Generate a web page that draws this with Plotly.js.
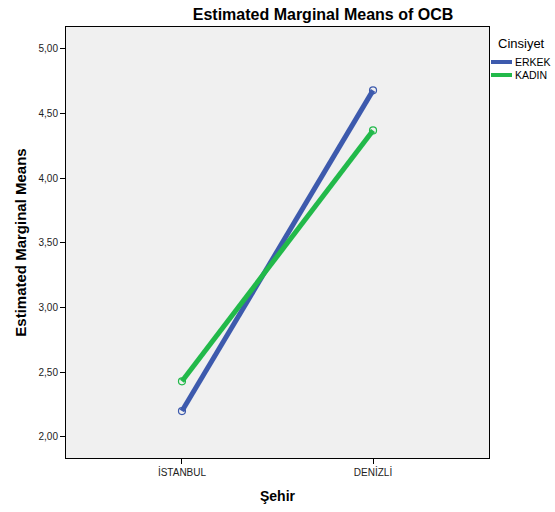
<!DOCTYPE html>
<html>
<head>
<meta charset="utf-8">
<script src="https://cdn.plot.ly/plotly-3.0.1.min.js"></script>
<style>html,body{margin:0;padding:0;background:#fff;}#chart{width:555px;height:512px;}</style>
</head>
<body>
<div id="chart"></div>
<script>
const categories = ["İSTANBUL", "DENİZLİ"];
const seriesNames = ["ERKEK", "KADIN"];
const erkekValues = [2.20, 4.68];
const kadinValues = [2.43, 4.37];
const yTickValues = [2.0, 2.5, 3.0, 3.5, 4.0, 4.5, 5.0];
const legendTitle = "Cinsiyet";
const colors = ["#3d5aad", "#22b94a"];

const font = "Arial, 'Liberation Sans', sans-serif";
const W = 555, H = 512;
const M = {l: 66, r: 66, t: 27, b: 54};
const pw = W - M.l - M.r, ph = H - M.t - M.b;
const px = X => (X - M.l) / pw;
const py = Y => (H - M.b - Y) / ph;

const traces = [erkekValues, kadinValues].map((vals, i) => ({
  x: categories,
  y: vals,
  name: seriesNames[i],
  type: "scatter",
  mode: "lines+markers",
  showlegend: false,
  line: {color: colors[i], width: 5},
  marker: {symbol: "circle-open", size: 7, color: colors[i], line: {width: 1.2, color: colors[i]}}
}));

// custom legend (SPSS style): title + short thick swatches
const annotations = [{
  xref: "paper", yref: "paper", x: px(496), y: py(44), xanchor: "left", yanchor: "middle",
  text: legendTitle, showarrow: false, font: {family: font, size: 13, color: "#000"}
}];
const shapes = [];
seriesNames.forEach((name, i) => {
  const yy = 62 + i * 13;
  shapes.push({type: "line", xref: "paper", yref: "paper", x0: px(491), x1: px(512), y0: py(yy), y1: py(yy),
    line: {color: colors[i], width: 4}});
  annotations.push({xref: "paper", yref: "paper", x: px(513), y: py(yy), xanchor: "left", yanchor: "middle",
    text: name, showarrow: false, font: {family: font, size: 10.5, color: "#000"}});
});

const layout = {
  width: W, height: H,
  margin: Object.assign({autoexpand: false}, M),
  paper_bgcolor: "#ffffff",
  plot_bgcolor: "#f0f0f0",
  separators: ",.",
  font: {family: font, size: 10, color: "#222"},
  showlegend: false,
  title: {text: "<b>Estimated Marginal Means of OCB</b>", font: {family: font, size: 16, color: "#000"},
    x: 323 / W, xanchor: "center", xref: "container", y: 1 - 14 / H, yanchor: "middle", yref: "container"},
  xaxis: {
    type: "category", range: [-0.607, 1.607],
    showgrid: false, zeroline: false,
    showline: true, linecolor: "#000", linewidth: 1, mirror: true,
    ticks: "outside", ticklen: 5, tickcolor: "#000",
    tickfont: {family: font, size: 10, color: "#222"},
    title: {text: "<b>Şehir</b>", font: {family: font, size: 14, color: "#000"}, standoff: 14}
  },
  yaxis: {
    range: [1.837, 5.17],
    tickvals: yTickValues, tickformat: ".2f",
    showgrid: false, zeroline: false,
    showline: true, linecolor: "#000", linewidth: 1, mirror: true,
    ticks: "outside", ticklen: 5, tickcolor: "#000",
    tickfont: {family: font, size: 10, color: "#222"},
    title: {text: "<b>Estimated Marginal Means</b>", font: {family: font, size: 15, color: "#000"}, standoff: 8}
  },
  annotations: annotations,
  shapes: shapes
};

Plotly.newPlot("chart", traces, layout, {displayModeBar: false, staticPlot: true});
</script>
</body>
</html>
